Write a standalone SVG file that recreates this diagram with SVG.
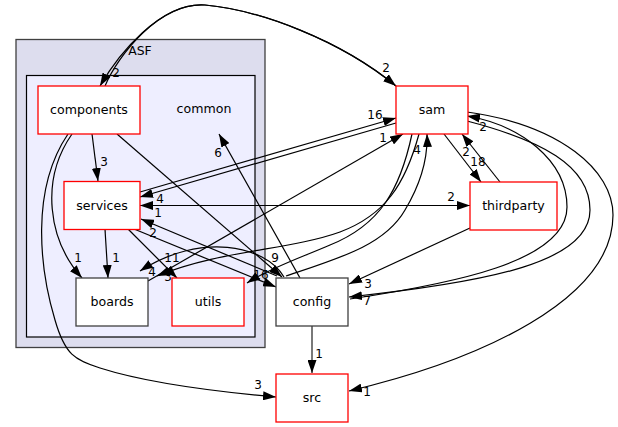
<svg xmlns="http://www.w3.org/2000/svg" width="618" height="427" viewBox="0 0 618 427">
<style>
text{font-family:"DejaVu Sans","Liberation Sans",sans-serif;fill:#000}
.nt{font-size:12.6px;text-anchor:middle}
.lt{font-size:12px;text-anchor:middle}
.ct{font-size:12.4px;text-anchor:middle}
.red{fill:#fff;stroke:#ff0000;stroke-width:1.3}
.gry{fill:#fff;stroke:#404040;stroke-width:1.3}
.e{fill:none;stroke:#000;stroke-width:1.2;marker-end:url(#ah)}
</style>
<defs>
<marker id="ah" viewBox="0 0 13 9" refX="13" refY="4.5" markerWidth="13" markerHeight="9" orient="auto" markerUnits="userSpaceOnUse">
<path d="M0,0 L13,4.5 L0,9 Z" fill="#000"/>
</marker>
</defs>
<rect width="618" height="427" fill="#fff"/>
<g id="cluster-ASF">
<rect x="16" y="39.5" width="249" height="308" fill="#ddddee" stroke="#404040" stroke-width="1.3"/>
<text class="ct" x="140" y="55">ASF</text>
</g>
<g id="cluster-common">
<rect x="26.5" y="75.5" width="228.5" height="261.5" fill="#eeeeff" stroke="#000" stroke-width="1.2"/>
<text class="nt" x="204" y="113">common</text>
</g>
<g id="connectors">
<path class="e" d="M105,86 C118,55 160,2 205,5 C260,10 340,40 396,86"/>
<path class="e" d="M396,86 C340,40 260,10 205,5 C160,2 118,55 100,86"/>
<path class="e" d="M92,134 L98,181"/>
<path class="e" d="M72,134 C40,180 48,240 82,278"/>
<path class="e" d="M68,134 C30,190 40,270 55,320 C65,355 75,360 100,368 C150,384 220,392 276,397"/>
<path class="e" d="M117,134 L282,277"/>
<path class="e" d="M105,229 L108,278"/>
<path class="e" d="M128,229 L177,278"/>
<path class="e" d="M134,229 L276,287"/>
<path class="e" d="M140,192 L396,118"/>
<path class="e" d="M396,123 L140,197"/>
<path class="e" d="M140,205.5 L470,205.5"/>
<path class="e" d="M470,205.5 L140,205.5"/>
<path class="e" d="M277,276 L141,219"/>
<path class="e" d="M284,277 C265,245 200,232 140,271"/>
<path class="e" d="M300,278 L219,134"/>
<path class="e" d="M286,276 C340,258 385,245 405,210 C420,185 428,160 427,134"/>
<path class="e" d="M419,134 C405,185 385,215 340,232 C290,250 220,250 157,276"/>
<path class="e" d="M148,281 L403,134"/>
<path class="e" d="M412,134 C400,190 380,225 330,245 C300,258 270,268 247,283"/>
<path class="e" d="M470,228 L349,284"/>
<path class="e" d="M444,134 L481,182"/>
<path class="e" d="M500,182 L462,134"/>
<path class="e" d="M467,121 C540,140 590,165 590,210 C590,262 490,282 349,297"/>
<path class="e" d="M350,299 C450,284 567,262 567,207 C567,160 520,125 467,116"/>
<path class="e" d="M467,112 C560,125 613,170 613,215 C613,300 480,360 349,391"/>
<path class="e" d="M312,326 L312,373" style="stroke:#404040;stroke-width:1.4"/>
<text class="lt" x="386" y="72">2</text>
<text class="lt" x="116" y="77">2</text>
<text class="lt" x="104" y="166">3</text>
<text class="lt" x="78" y="262">1</text>
<text class="lt" x="116" y="262">1</text>
<text class="lt" x="172" y="262">11</text>
<text class="lt" x="152" y="276">4</text>
<text class="lt" x="168" y="281">3</text>
<text class="lt" x="153" y="237">2</text>
<text class="lt" x="158" y="217">1</text>
<text class="lt" x="160" y="203">4</text>
<text class="lt" x="375" y="119">16</text>
<text class="lt" x="383" y="142">1</text>
<text class="lt" x="417" y="154">4</text>
<text class="lt" x="483" y="131">2</text>
<text class="lt" x="466" y="156">2</text>
<text class="lt" x="478" y="166">18</text>
<text class="lt" x="451" y="201">2</text>
<text class="lt" x="275" y="262">9</text>
<text class="lt" x="261" y="279">16</text>
<text class="lt" x="218" y="157">6</text>
<text class="lt" x="368" y="288">3</text>
<text class="lt" x="367" y="305">7</text>
<text class="lt" x="319" y="358">1</text>
<text class="lt" x="258" y="389">3</text>
<text class="lt" x="367" y="396">1</text>
</g>
<g id="node-components"><rect class="red" x="38" y="86" width="102" height="48"/><text class="nt" x="89" y="114">components</text></g>
<g id="node-services"><rect class="red" x="64" y="181.5" width="76" height="48"/><text class="nt" x="102" y="209.5">services</text></g>
<g id="node-boards"><rect class="gry" x="76" y="278" width="72" height="48"/><text class="nt" x="112" y="306">boards</text></g>
<g id="node-utils"><rect class="red" x="172" y="278" width="72" height="48"/><text class="nt" x="208" y="306">utils</text></g>
<g id="node-config"><rect class="gry" x="276" y="278" width="72" height="48"/><text class="nt" x="312" y="306">config</text></g>
<g id="node-src"><rect class="red" x="276" y="374" width="72" height="48"/><text class="nt" x="312" y="402">src</text></g>
<g id="node-sam"><rect class="red" x="396" y="86" width="72" height="48"/><text class="nt" x="432" y="114">sam</text></g>
<g id="node-thirdparty"><rect class="red" x="470" y="182" width="87" height="48"/><text class="nt" x="513.5" y="210">thirdparty</text></g>
</svg>
